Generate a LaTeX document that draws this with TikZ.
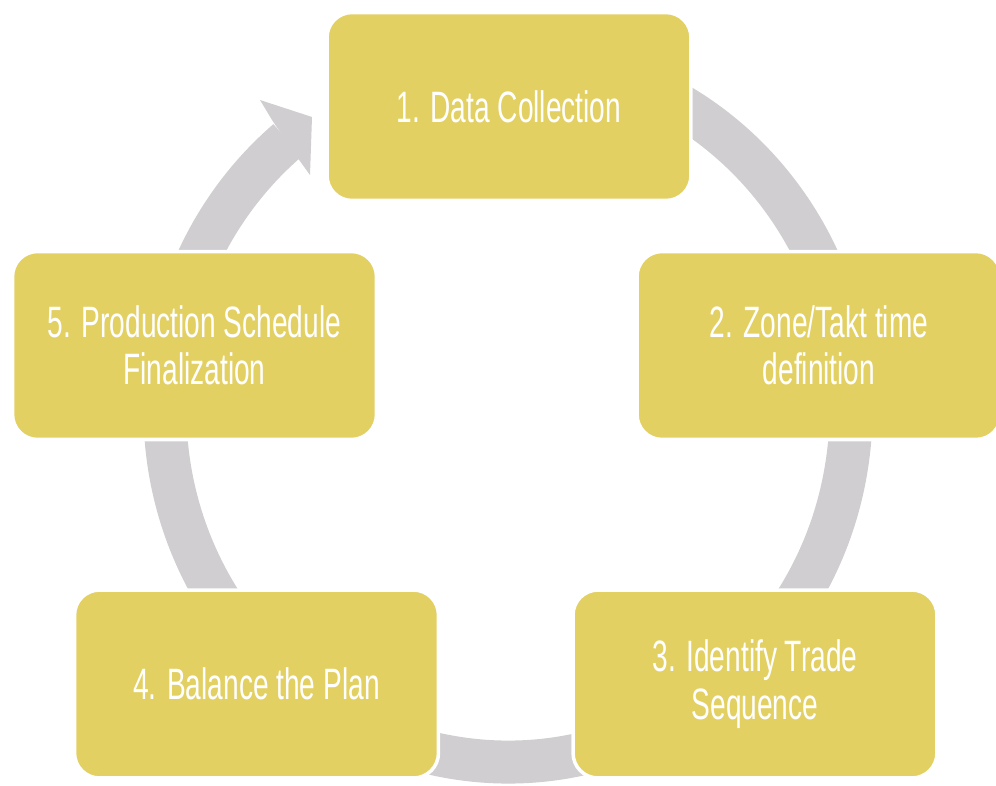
\documentclass[tikz,border=0pt]{standalone}
\usepackage{fontspec}
\setmainfont{Liberation Sans}[FakeStretch=0.64]
\usetikzlibrary{positioning}
\definecolor{stageyellow}{HTML}{E3D063}
\definecolor{ringgray}{HTML}{D0CED0}

\begin{document}
\begin{tikzpicture}[x=0.02cm, y=-0.02cm,
        stage/.style={draw=white, line width=2pt, fill=stageyellow, rounded corners=0.5cm, minimum width=7.28cm, minimum height=3.76cm, align=center, text=white, font=\fontsize{25}{27}\selectfont},
        ring/.style={draw=ringgray, line width=0.86cm},
        ringhead/.style={fill=ringgray},
    ]
        \useasboundingbox (0,0) rectangle (996,785);
        \coordinate (hub) at (508,410);

        % Cycle ring (behind the stages)
        \draw[ring] (hub) ++(-80:343 and 352) arc[start angle=-80, end angle=230, x radius=343, y radius=352];
        \fill[ringhead] (272,120) -- (260,100) -- (312,117) -- (310,175) -- (297,157) -- cycle;

        % Stages
        \node[stage] (collect) at (509,106.5) {1. Data Collection};
        \node[stage] (takt) at (819,345.5) {2. Zone/Takt time\\definition};
        \node[stage] (trade) at (755,684) {3. Identify Trade\\Sequence};
        \node[stage] (balance) at (256.5,684) {4. Balance the Plan};
        \node[stage] (schedule) at (194.5,345.5) {5. Production Schedule\\Finalization};
    \end{tikzpicture}
\end{document}
